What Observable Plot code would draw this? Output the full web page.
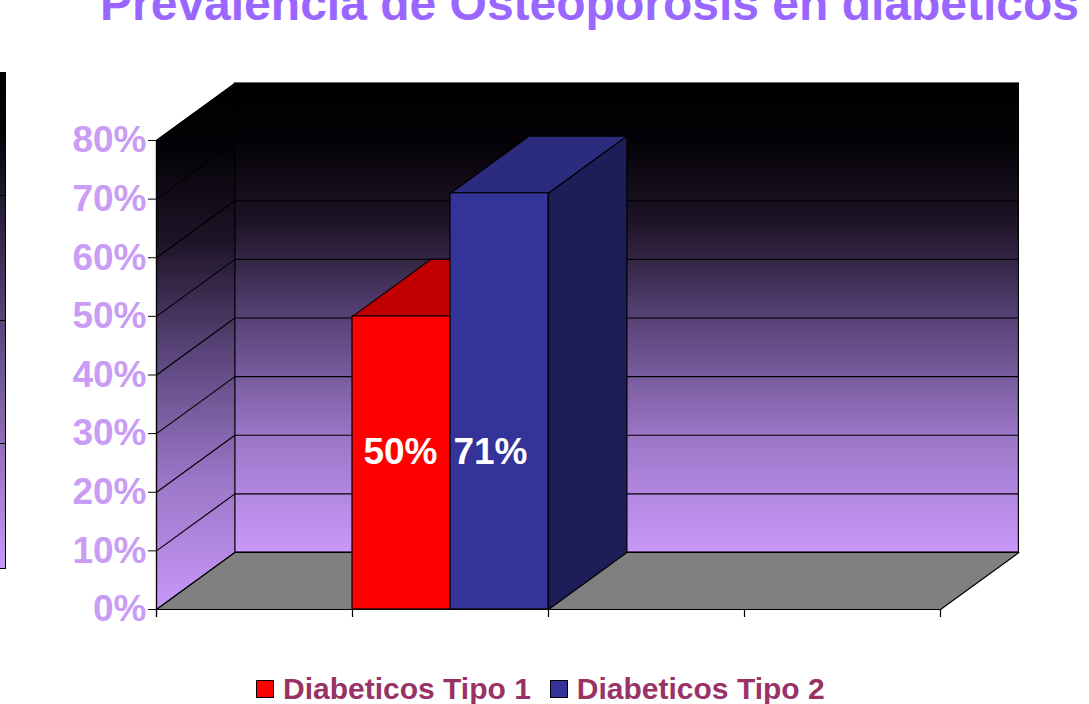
<!DOCTYPE html>
<html><head><meta charset="utf-8">
<script src="https://cdn.jsdelivr.net/npm/d3@7"></script>
<script src="https://cdn.jsdelivr.net/npm/@observablehq/plot@0.6"></script>
<style>
body{margin:0;background:#fff;font-family:"Liberation Sans",Arial,sans-serif;}
#wrap{position:relative;width:1089px;height:704px;overflow:hidden;}
#title{position:relative;height:30px;overflow:hidden;}
#title span{position:absolute;left:100px;top:-20px;font-size:48px;line-height:48px;font-weight:bold;color:#9966ff;white-space:nowrap;}
#chart{position:relative;height:630px;}
#legend{position:relative;height:44px;}
#legend .items{position:absolute;left:256px;top:14px;display:flex;align-items:center;}
#legend .sw{width:16px;height:16px;border:1px solid #000;margin-right:9px;}
#legend .lab{font-size:30px;line-height:30px;font-weight:bold;color:#993366;margin-right:19px;white-space:nowrap;}
#strip{position:absolute;left:0;top:72px;width:5px;height:496px;border-right:1px solid #000;border-bottom:1px solid #000;
  background:linear-gradient(#000 0%,#050308 12%,#5a4478 50%,#c898f8 100%);}
#strip i{position:absolute;left:0;width:5px;height:1px;background:#000;}
</style></head>
<body>
<div id="wrap">
  <div id="strip"><i style="top:123px"></i><i style="top:248px"></i><i style="top:371px"></i></div>
  <div id="title"><span></span></div>
  <div id="chart"></div>
  <div id="legend"><div class="items"></div></div>
</div>
<script>
// ---- data ----
const titleText = "Prevalencia de Osteoporosis en diabeticos";
const yTicks = [0, 10, 20, 30, 40, 50, 60, 70, 80];
const categories = ["", "", "", ""];
const series = ["Diabeticos Tipo 1", "Diabeticos Tipo 2"];
const values = [50, 71];

// ---- style / layout ----
const frontColors = ["#ff0000", "#333399"];
const topColors = ["#c00000", "#2b2b80"];
const sideColors = ["#9a0000", "#1d1d58"];
const labelDx = [-1, -9];
const groupIndex = 1;           // category slot holding the bars
const DX = 0.4, DY = 9.72;      // oblique depth (x in category units, y in %)
const W = 1089, H = 630;
const mL = 156, mR = 70.6, mT = 53, mB = 51;
const pxPerPct = (H - mT - mB) / (80 + DY);
const nCat = categories.length;

document.querySelector("#title span").textContent = titleText;

const bars = series.map((s, i) => ({
  name: s, value: values[i],
  x1: groupIndex + i / series.length,
  x2: groupIndex + (i + 1) / series.length, i
}));

const poly = (pts, fill) => Plot.line([...pts, pts[0]], {
  x: d => d[0], y: d => d[1], fill, stroke: "#000", strokeWidth: 1.2, strokeLinejoin: "round"
});

const marks = [];
// back wall
marks.push(Plot.rect([0], {x1: () => DX, x2: () => nCat + DX, y1: () => DY, y2: () => 80 + DY,
  fill: "url(#wallGrad)", stroke: "#000", strokeWidth: 1.2}));
// side wall
marks.push(poly([[0, 0], [DX, DY], [DX, 80 + DY], [0, 80]], "url(#sideGrad)"));
// floor
marks.push(poly([[0, 0], [nCat, 0], [nCat + DX, DY], [DX, DY]], "#808080"));
// gridlines
marks.push(Plot.ruleY(yTicks.slice(1), {y: d => d + DY, x1: () => DX, x2: () => nCat + DX, stroke: "#000", strokeWidth: 1.2}));
marks.push(Plot.link(yTicks.slice(1), {x1: () => 0, y1: d => d, x2: () => DX, y2: d => d + DY, stroke: "#000", strokeWidth: 1.2}));
// bars
bars.forEach(b => {
  marks.push(poly([[b.x1, b.value], [b.x2, b.value], [b.x2 + DX, b.value + DY], [b.x1 + DX, b.value + DY]], topColors[b.i]));
  marks.push(poly([[b.x2, 0], [b.x2 + DX, DY], [b.x2 + DX, b.value + DY], [b.x2, b.value]], sideColors[b.i]));
  marks.push(Plot.rect([b], {x1: d => d.x1, x2: d => d.x2, y1: () => 0, y2: d => d.value,
    fill: frontColors[b.i], stroke: "#000", strokeWidth: 1.2}));
});
// x ticks
marks.push(Plot.ruleX(d3.range(nCat + 1), {y1: () => 0, y2: () => -8 / pxPerPct, stroke: "#000", strokeWidth: 1.2}));
// y axis
marks.push(Plot.ruleX([0], {y1: () => -8 / pxPerPct, y2: () => 80, stroke: "#000", strokeWidth: 1.2}));
marks.push(Plot.axisY(yTicks, {tickFormat: d => d + "%", tickSize: 8, tickPadding: 2,
  fontSize: 37, fontWeight: "bold", fill: "#c99cf5", stroke: "#000"}));
// value labels
bars.forEach(b => {
  marks.push(Plot.text([b], {x: d => (d.x1 + d.x2) / 2, y: () => 26.9, text: d => d.value + "%",
    fill: "#fff", fontSize: 37, fontWeight: "bold", dx: labelDx[b.i]}));
});

const svg = Plot.plot({
  width: W, height: H,
  marginLeft: mL, marginRight: mR, marginTop: mT, marginBottom: mB,
  x: {domain: [0, nCat + DX], axis: null},
  y: {domain: [0, 80 + DY], axis: null},
  style: {fontFamily: '"Liberation Sans", Arial, sans-serif', background: "transparent", overflow: "visible"},
  marks
});
const ns = "http://www.w3.org/2000/svg";
const defs = document.createElementNS(ns, "defs");
const stops = `<stop offset="0" stop-color="#000"/><stop offset="0.12" stop-color="#040206"/>
  <stop offset="0.3" stop-color="#1e1428"/><stop offset="0.5" stop-color="#574276"/>
  <stop offset="0.75" stop-color="#9a76c6"/><stop offset="1" stop-color="#c998fa"/>`;
defs.innerHTML = `<linearGradient id="wallGrad" x1="0" y1="0" x2="0" y2="1">${stops}</linearGradient>
  <linearGradient id="sideGrad" x1="0" y1="0" x2="0" y2="1">${stops}</linearGradient>`;
svg.insertBefore(defs, svg.firstChild);
document.getElementById("chart").appendChild(svg);

// legend
const items = document.querySelector("#legend .items");
series.forEach((s, i) => {
  const sw = document.createElement("span"); sw.className = "sw"; sw.style.background = frontColors[i];
  const lab = document.createElement("span"); lab.className = "lab"; lab.textContent = s;
  items.appendChild(sw); items.appendChild(lab);
});
</script>
</body></html>
